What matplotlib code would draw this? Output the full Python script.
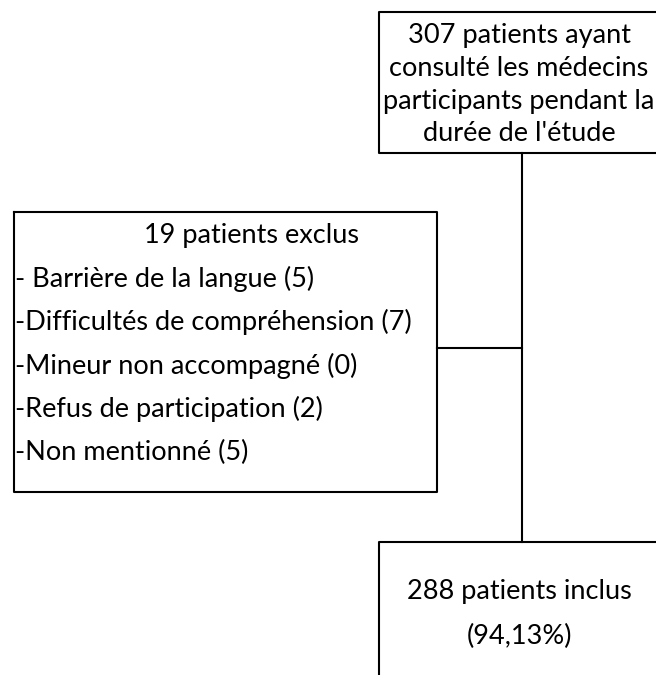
import matplotlib
matplotlib.use('Agg')
import matplotlib.pyplot as plt

plt.rcParams['font.family'] = ['Lato', 'DejaVu Sans']

# textes des boites
top_lines = ["307 patients ayant", "consulté les médecins",
             "participants pendant la", "durée de l'étude"]
excl_title = "19 patients exclus"
excl_reasons = ["- Barrière de la langue", "-Difficultés de compréhension",
                "-Mineur non accompagné", "-Refus de participation", "-Non mentionné"]
excl_counts = [5, 7, 0, 2, 5]
incl_lines = ["288 patients inclus", "(94,13%)"]

W, H = 656, 675
fig = plt.figure(figsize=(W / 100, H / 100), dpi=100)
ax = fig.add_axes([0, 0, 1, 1])
ax.set_xlim(0, W)
ax.set_ylim(H, 0)
ax.axis('off')

lw = 1.5
fs = 19.5

# boite du haut (depasse a droite)
ax.plot([665, 379, 379, 665], [12, 12, 153, 153], color='black', lw=lw)
for i, t in enumerate(top_lines):
    ax.text(519, 36 + i * 32.5, t, ha='center', va='center', fontsize=fs)

# ligne verticale centrale
ax.plot([522, 522], [153, 542], color='black', lw=lw)
# connecteur vers la boite des exclus
ax.plot([437, 522], [348, 348], color='black', lw=lw)

# boite des exclus
ax.plot([14, 437, 437, 14, 14], [212, 212, 492, 492, 212], color='black', lw=lw)
ax.text(252, 236, excl_title, ha='center', va='center', fontsize=fs)
for i, (r, n) in enumerate(zip(excl_reasons, excl_counts)):
    ax.text(15, 279 + i * 43.3, f"{r} ({n})", ha='left', va='center', fontsize=fs)

# boite des inclus (depasse en bas et a droite)
ax.plot([379, 379, 665], [680, 542, 542], color='black', lw=lw)
ax.text(519, 592, incl_lines[0], ha='center', va='center', fontsize=fs)
ax.text(519, 636, incl_lines[1], ha='center', va='center', fontsize=fs)

fig.savefig('out.png', dpi=100)
